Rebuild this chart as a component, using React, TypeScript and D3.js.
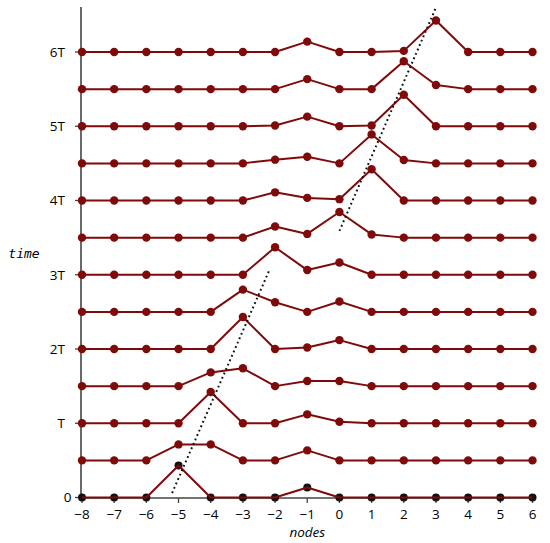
import React from "react";
import * as d3 from "d3";

const nodes = [-8, -7, -6, -5, -4, -3, -2, -1, 0, 1, 2, 3, 4, 5, 6];
const timeTicks = [0, 1, 2, 3, 4, 5, 6];
const timeLabels = ["0", "T", "2T", "3T", "4T", "5T", "6T"];
const rowTimes = [0, 0.5, 1, 1.5, 2, 2.5, 3, 3.5, 4, 4.5, 5, 5.5, 6];

// amplitude above each row's baseline (in units of T), nodes -8..6
const row0 = [0, 0, 0, 0.43, 0, 0, 0, 0.135, 0, 0, 0, 0, 0, 0, 0];
const row1 = [0, 0, 0, 0.215, 0.215, 0, 0, 0.135, 0, 0, 0, 0, 0, 0, 0];
const row2 = [0, 0, 0, 0, 0.42, 0, 0, 0.12, 0.02, 0, 0, 0, 0, 0, 0];
const row3 = [0, 0, 0, 0, 0.185, 0.24, 0, 0.07, 0.07, 0, 0, 0, 0, 0, 0];
const row4 = [0, 0, 0, 0, 0, 0.43, 0, 0.02, 0.12, 0, 0, 0, 0, 0, 0];
const row5 = [0, 0, 0, 0, 0, 0.3, 0.13, 0, 0.14, 0, 0, 0, 0, 0, 0];
const row6 = [0, 0, 0, 0, 0, 0, 0.37, 0.063, 0.165, 0, 0, 0, 0, 0, 0];
const row7 = [0, 0, 0, 0, 0, 0, 0.15, 0.05, 0.345, 0.043, 0, 0, 0, 0, 0];
const row8 = [0, 0, 0, 0, 0, 0, 0.11, 0.035, 0.018, 0.42, 0, 0, 0, 0, 0];
const row9 = [0, 0, 0, 0, 0, 0, 0.05, 0.09, 0, 0.39, 0.045, 0, 0, 0, 0];
const row10 = [0, 0, 0, 0, 0, 0, 0.01, 0.13, 0, 0.01, 0.425, 0, 0, 0, 0];
const row11 = [0, 0, 0, 0, 0, 0, 0, 0.135, 0, 0, 0.375, 0.055, 0, 0, 0];
const row12 = [0, 0, 0, 0, 0, 0, 0, 0.14, 0, 0, 0.015, 0.425, 0, 0, 0];
const rows = [row0, row1, row2, row3, row4, row5, row6, row7, row8, row9, row10, row11, row12];

// dotted guide lines: [node, time] endpoints
const guide1 = [[-5.2, 0.06], [-2.17, 3.07]];
const guide2 = [[0.0, 3.59], [3.0, 6.6]];

export default function App() {
  const W = 550, H = 543;
  const x = d3.scaleLinear().domain([-8, 6]).range([82, 532.5]);
  const y = d3.scaleLinear().domain([0, 6]).range([497.5, 52]);
  const red = "#7f0a0a";
  const axisColor = "#444";
  const line = d3.line<[number, number]>().x(d => x(d[0])).y(d => y(d[1]));
  const sans = "'Open Sans', 'DejaVu Sans', sans-serif";

  return (
    <svg width={W} height={H} style={{ position: "absolute", left: 0, top: 0, background: "#fff" }}>
      {/* axes */}
      <line x1={81} x2={81} y1={7} y2={y(0) + 0.5} stroke={axisColor} strokeWidth={1.6} />
      <line x1={81} x2={x(6) + 1} y1={y(0) + 0.5} y2={y(0) + 0.5} stroke={axisColor} strokeWidth={1.6} />
      {timeTicks.map((t, i) => (
        <g key={"yt" + i}>
          <line x1={75} x2={81} y1={y(t)} y2={y(t)} stroke={axisColor} strokeWidth={1.3} />
          <text x={t === 0 ? 71.5 : 65} y={y(t)} dy="0.36em" textAnchor="end" fontFamily={sans} fontSize={13.5} fill="#000">
            {timeLabels[i]}
          </text>
        </g>
      ))}
      {nodes.map(n => (
        <g key={"xt" + n}>
          <line x1={x(n)} x2={x(n)} y1={y(0) + 0.5} y2={y(0) + 5.5} stroke={axisColor} strokeWidth={1.3} />
          <text x={x(n)} y={519} textAnchor="middle" fontFamily={sans} fontSize={13.5} fill="#000">
            {n < 0 ? "\u2212" + Math.abs(n) : String(n)}
          </text>
        </g>
      ))}
      <text x={(x(-8) + x(6)) / 2} y={537} textAnchor="middle" fontFamily={sans} fontStyle="italic" fontSize={13.5} fill="#000">
        nodes
      </text>
      <text x={24} y={258} textAnchor="middle" fontFamily="'DejaVu Sans Mono', monospace" fontStyle="italic" fontSize={13} fill="#000">
        time
      </text>

      {/* row 0 black dots */}
      {row0.map((a, j) => (
        <circle key={"b" + j} cx={x(nodes[j])} cy={y(rowTimes[0] + a)} r={4} fill="#111" />
      ))}

      {/* rows */}
      {rows.map((r, k) => {
        const pts: [number, number][] = r.map((a, j) => [nodes[j], rowTimes[k] + a]);
        return (
          <g key={"r" + k}>
            <path d={line(pts) || ""} fill="none" stroke={red} strokeWidth={2} strokeLinejoin="round" />
            {k > 0 && pts.map((p, j) => (
              <circle key={j} cx={x(p[0])} cy={y(p[1])} r={4.2} fill={red} />
            ))}
          </g>
        );
      })}

      {/* guides */}
      {[guide1, guide2].map((g, i) => (
        <path key={"g" + i} d={line(g as [number, number][]) || ""} fill="none" stroke="#111" strokeWidth={2} strokeDasharray="1.8 3" />
      ))}
    </svg>
  );
}
